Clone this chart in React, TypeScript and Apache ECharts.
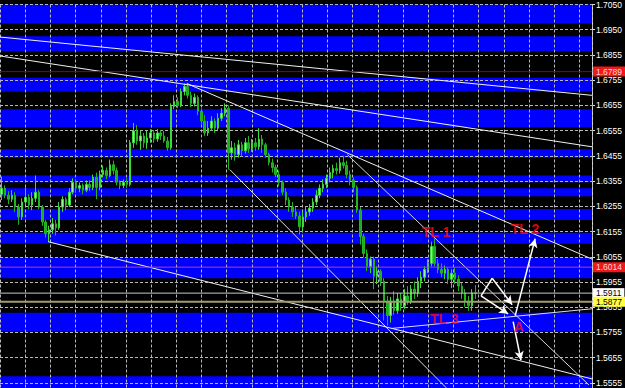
import React, { useEffect, useRef } from 'react';
import * as echarts from 'echarts';

// ---------- DATA ----------
// candles: [open, close, low, high]
const candles: number[][] = [
  [1.6303,1.6327,1.6280,1.6373],[1.6327,1.6299,1.6287,1.6338],[1.6299,1.6283,1.6264,1.6315],[1.6283,1.6299,1.6272,1.6319],
  [1.6299,1.6252,1.6233,1.6311],[1.6252,1.6213,1.6182,1.6264],[1.6213,1.6272,1.6201,1.6287],[1.6272,1.6291,1.6260,1.6330],
  [1.6291,1.6260,1.6244,1.6303],[1.6260,1.6287,1.6240,1.6311],[1.6287,1.6311,1.6272,1.6377],[1.6311,1.6252,1.6244,1.6319],
  [1.6252,1.6193,1.6178,1.6260],[1.6193,1.6146,1.6131,1.6201],[1.6146,1.6162,1.6115,1.6178],[1.6162,1.6186,1.6146,1.6209],
  [1.6186,1.6170,1.6139,1.6201],[1.6170,1.6252,1.6162,1.6272],[1.6252,1.6283,1.6233,1.6295],[1.6283,1.6260,1.6240,1.6291],
  [1.6260,1.6311,1.6252,1.6327],[1.6311,1.6350,1.6303,1.6366],[1.6350,1.6327,1.6311,1.6362],[1.6327,1.6338,1.6311,1.6350],
  [1.6338,1.6319,1.6303,1.6346],[1.6319,1.6342,1.6311,1.6358],[1.6342,1.6330,1.6315,1.6358],[1.6330,1.6370,1.6319,1.6381],
  [1.6370,1.6330,1.6283,1.6389],[1.6330,1.6381,1.6319,1.6397],[1.6381,1.6397,1.6370,1.6417],[1.6397,1.6377,1.6362,1.6409],
  [1.6377,1.6420,1.6370,1.6440],[1.6420,1.6397,1.6381,1.6436],[1.6397,1.6350,1.6338,1.6409],[1.6350,1.6338,1.6323,1.6358],
  [1.6338,1.6350,1.6327,1.6362],[1.6350,1.6342,1.6330,1.6366],[1.6342,1.6507,1.6334,1.6518],[1.6507,1.6554,1.6487,1.6585],
  [1.6554,1.6514,1.6499,1.6577],[1.6514,1.6534,1.6479,1.6554],[1.6534,1.6507,1.6487,1.6546],[1.6507,1.6526,1.6483,1.6554],
  [1.6526,1.6546,1.6507,1.6561],[1.6546,1.6522,1.6507,1.6557],[1.6522,1.6546,1.6511,1.6561],[1.6546,1.6534,1.6518,1.6557],
  [1.6534,1.6514,1.6507,1.6554],[1.6514,1.6487,1.6475,1.6530],[1.6487,1.6651,1.6479,1.6663],[1.6651,1.6671,1.6640,1.6695],
  [1.6671,1.6655,1.6644,1.6687],[1.6655,1.6710,1.6648,1.6722],[1.6710,1.6730,1.6695,1.6742],[1.6730,1.6695,1.6683,1.6742],
  [1.6695,1.6663,1.6648,1.6710],[1.6663,1.6687,1.6651,1.6702],[1.6687,1.6632,1.6616,1.6695],[1.6632,1.6593,1.6577,1.6644],
  [1.6593,1.6546,1.6534,1.6616],[1.6546,1.6565,1.6534,1.6593],[1.6565,1.6593,1.6554,1.6612],[1.6593,1.6565,1.6546,1.6604],
  [1.6565,1.6604,1.6557,1.6624],[1.6604,1.6624,1.6593,1.6644],[1.6624,1.6644,1.6612,1.6663],[1.6644,1.6467,1.6401,1.6655],
  [1.6467,1.6487,1.6440,1.6514],[1.6487,1.6460,1.6436,1.6507],[1.6460,1.6499,1.6448,1.6518],[1.6499,1.6475,1.6452,1.6511],
  [1.6475,1.6507,1.6464,1.6526],[1.6507,1.6483,1.6467,1.6534],[1.6483,1.6507,1.6471,1.6522],[1.6507,1.6491,1.6475,1.6526],
  [1.6491,1.6522,1.6479,1.6565],[1.6522,1.6499,1.6467,1.6538],[1.6499,1.6460,1.6448,1.6507],[1.6460,1.6428,1.6417,1.6467],
  [1.6428,1.6409,1.6389,1.6444],[1.6409,1.6381,1.6370,1.6420],[1.6381,1.6350,1.6334,1.6397],[1.6350,1.6311,1.6299,1.6358],
  [1.6311,1.6280,1.6260,1.6327],[1.6280,1.6252,1.6233,1.6291],[1.6252,1.6233,1.6213,1.6272],[1.6233,1.6217,1.6205,1.6252],
  [1.6217,1.6174,1.6143,1.6233],[1.6174,1.6213,1.6154,1.6233],[1.6213,1.6233,1.6193,1.6252],[1.6233,1.6248,1.6217,1.6264],
  [1.6248,1.6272,1.6233,1.6287],[1.6272,1.6299,1.6260,1.6319],[1.6299,1.6327,1.6287,1.6342],[1.6327,1.6342,1.6311,1.6362],
  [1.6342,1.6366,1.6327,1.6381],[1.6366,1.6389,1.6350,1.6409],[1.6389,1.6405,1.6366,1.6420],[1.6405,1.6397,1.6381,1.6428],
  [1.6397,1.6428,1.6385,1.6448],[1.6428,1.6417,1.6405,1.6456],[1.6417,1.6381,1.6366,1.6436],[1.6381,1.6358,1.6338,1.6397],
  [1.6358,1.6330,1.6311,1.6370],[1.6330,1.6240,1.6229,1.6338],[1.6240,1.6135,1.6103,1.6252],[1.6135,1.6068,1.6052,1.6146],
  [1.6068,1.6017,1.5998,1.6084],[1.6017,1.6045,1.5990,1.6056],[1.6045,1.5978,1.5927,1.6056],[1.5978,1.5998,1.5947,1.6017],
  [1.5998,1.5958,1.5939,1.6005],[1.5958,1.5880,1.5802,1.5970],[1.5880,1.5822,1.5782,1.5900],[1.5822,1.5880,1.5794,1.5896],
  [1.5880,1.5841,1.5825,1.5919],[1.5841,1.5888,1.5829,1.5912],[1.5888,1.5861,1.5841,1.5912],[1.5861,1.5900,1.5849,1.5927],
  [1.5900,1.5880,1.5865,1.5939],[1.5880,1.5927,1.5868,1.5943],[1.5927,1.5912,1.5888,1.5958],[1.5912,1.5958,1.5896,1.5974],
  [1.5958,1.5974,1.5931,1.5998],[1.5974,1.6005,1.5958,1.6017],[1.6005,1.6029,1.5990,1.6045],[1.6029,1.6096,1.6017,1.6115],
  [1.6096,1.6029,1.6017,1.6127],[1.6029,1.6005,1.5990,1.6045],[1.6005,1.5990,1.5974,1.6029],[1.5990,1.6005,1.5966,1.6021],
  [1.6005,1.5966,1.5947,1.6013],[1.5966,1.5990,1.5931,1.6005],[1.5990,1.5966,1.5947,1.6013],[1.5966,1.5939,1.5919,1.5982],
  [1.5939,1.5912,1.5888,1.5951],[1.5912,1.5880,1.5857,1.5927],[1.5880,1.5861,1.5841,1.5900],[1.5861,1.5912,1.5841,1.5927],
  [1.5912,1.5911,1.5888,1.5943],
];

const slotCount = 175; // bar slots across the chart (incl. empty right shift)
const priceMin = 1.5535;
const priceMax = 1.7055;

// right axis tick labels, top to bottom (steps of 0.01 from priceMax)
const tickLabels = [
  '1.7050', '1.6950', '1.6855', '1.6755', '1.6655', '1.6555', '1.6455', '1.6355',
  '1.6255', '1.6155', '1.6055', '1.5955', '1.5855', '1.5755', '1.5655', '1.5555',
];

// blue support/resistance zones [low, high]
const zones: number[][] = [
  [1.6980, 1.7055], [1.6871, 1.6929], [1.6710, 1.6765], [1.6569, 1.6640],
  [1.6448, 1.6481], [1.6350, 1.6377], [1.6295, 1.6327], [1.6201, 1.6244],
  [1.6107, 1.6150], [1.5970, 1.6052], [1.5759, 1.5833], [1.5535, 1.5582],
];

// horizontal price levels
const priceLevels = [1.6789, 1.6014, 1.5911, 1.5877];

// trend lines: [[barIndex, price], [barIndex, price]]
const trendLines: number[][][] = [
  [[-0.5, 1.6926], [174.5, 1.6695]],
  [[-0.5, 1.6851], [174.5, 1.6491]],
  [[54.7, 1.6742], [174.5, 1.6046]],
  [[102.2, 1.6460], [173.6, 1.5547]],
  [[67.4, 1.6401], [131.4, 1.5536]],
  [[13.7, 1.6115], [174.5, 1.5571]],
  [[115.2, 1.5771], [174.5, 1.5849]],
];

// hand-drawn arrows (polylines, head at the last point)
const arrowPaths: number[][][] = [
  [[141.7, 1.5900], [145.0, 1.5970], [150.9, 1.5865]],
  [[141.7, 1.5900], [149.7, 1.5829]],
  [[151.8, 1.5822], [157.7, 1.6127]],
  [[151.2, 1.5798], [153.5, 1.5645]],
];

// annotation texts
const noteNames = ['TL 1', 'TL 2', 'TL 3', 'A'];
const noteCoords: number[][] = [
  [128.4, 1.6154], [154.7, 1.6166], [130.8, 1.5810], [152.9, 1.5778],
];

// ---------- STYLE ----------
const FONT = 'Liberation Sans';
const gridLineStyle = { color: '#B8B8B8', width: 1, type: [3, 2] as number[] };
const levelStyles = [
  { line: '#7A0E0E', bg: '#F01818', fg: '#FFD8D8', w: 1 },
  { line: '#B040B0', bg: '#F01818', fg: '#FFD8D8', w: 1 },
  { line: '#C8C8C8', bg: '#FFFFFF', fg: '#000000', w: 1 },
  { line: '#A09C70', bg: '#FFFF40', fg: '#000000', w: 2 },
];
const trendColors = ['#F0F0F0', '#F0F0F0', '#F0F0F0', '#D8D8D8', '#E0E0E0', '#F0F0F0', '#D8D8FF'];

function buildOption(): any {
  const slots = Array.from({ length: slotCount }, (_, i) => String(i));

  const arrowSegs: any[] = [];
  arrowPaths.forEach((path) => {
    for (let s = 0; s < path.length - 1; s++) {
      const last = s === path.length - 2;
      arrowSegs.push([
        { coord: path[s], symbol: 'none' },
        { coord: path[s + 1], symbol: last ? 'arrow' : 'none' },
      ]);
    }
  });

  const trendSeries = trendLines.map((ln, idx) => ({
    type: 'line',
    xAxisIndex: 1,
    yAxisIndex: 0,
    data: ln,
    symbol: 'none',
    silent: true,
    z: 4,
    lineStyle: { color: trendColors[idx], width: 1 },
    ...(idx === 0
      ? {
          markLine: {
            z: 6,
            silent: true,
            symbol: ['none', 'arrow'],
            symbolSize: [7, 9],
            label: { show: false },
            lineStyle: { color: '#FFFFFF', width: 1.5, type: 'solid' },
            data: arrowSegs,
          },
        }
      : {}),
  }));

  // one carrier series per price level so every level keeps its own line and label
  const levelSeries = priceLevels.map((p, i) => ({
    type: 'line',
    xAxisIndex: 1,
    yAxisIndex: 0,
    data: [[-0.5, p], [slotCount - 0.5, p]],
    symbol: 'none',
    silent: true,
    z: 5,
    lineStyle: { color: levelStyles[i].line, width: levelStyles[i].w },
    endLabel: {
      show: true,
      formatter: p.toFixed(4),
      distance: 1,
      backgroundColor: levelStyles[i].bg,
      color: levelStyles[i].fg,
      fontSize: 8.5,
      fontFamily: FONT,
      lineHeight: 9,
      padding: [1, 3, 0, 3],
    },
  }));

  return {
    animation: false,
    backgroundColor: '#000000',
    grid: { left: 0, top: 0, right: 32, bottom: 0, containLabel: false },
    xAxis: [
      { type: 'category', data: slots, show: false, boundaryGap: true },
      { type: 'value', min: -0.5, max: slotCount - 0.5, show: false },
      {
        type: 'value', min: 0, max: 23.5, interval: 1, z: 2,
        axisLine: { show: false }, axisTick: { show: false }, axisLabel: { show: false },
        splitLine: { show: true, lineStyle: gridLineStyle },
      },
    ],
    yAxis: [
      { type: 'value', min: priceMin, max: priceMax, show: false },
      {
        type: 'value', inverse: true, min: 0, max: (priceMax - priceMin) / 0.01, interval: 1,
        position: 'right', z: 2,
        axisLine: { show: false }, axisTick: { show: false }, axisLabel: { show: false },
        splitLine: { show: true, lineStyle: gridLineStyle },
      },
      {
        type: 'value', inverse: true, min: 0, max: (priceMax - priceMin) / 0.01, interval: 1,
        position: 'right', z: 0,
        axisLine: { show: true, lineStyle: { color: '#E0E0E0', width: 1 } },
        axisTick: { show: true, length: 3, lineStyle: { color: '#E0E0E0' } },
        splitLine: { show: false },
        axisLabel: {
          show: true, margin: 4, color: '#FFFFFF', fontSize: 8.5, fontFamily: FONT,
          verticalAlignMinLabel: 'middle',
          formatter: (v: number) => {
            const k = Math.round(v);
            return Math.abs(v - k) < 1e-6 && tickLabels[k] ? tickLabels[k] : '';
          },
        },
      },
    ],
    series: [
      {
        type: 'candlestick',
        xAxisIndex: 0,
        yAxisIndex: 0,
        data: candles,
        barWidth: 2,
        z: 3,
        silent: true,
        itemStyle: {
          color: '#9CF59C', color0: '#1EAA1E',
          borderColor: '#3CD83C', borderColor0: '#22B422', borderWidth: 1,
        },
        markArea: {
          z: 1,
          silent: true,
          itemStyle: { color: '#0000FF', opacity: 1 },
          data: zones.map((zn) => [{ yAxis: zn[0] }, { yAxis: zn[1] }]),
        },
      },
      ...trendSeries,
      ...levelSeries,
      {
        type: 'scatter',
        xAxisIndex: 1,
        yAxisIndex: 0,
        z: 7,
        silent: true,
        symbolSize: 1,
        itemStyle: { color: 'rgba(0,0,0,0)' },
        data: noteNames.map((n, i) => ({ name: n, value: noteCoords[i] })),
        label: {
          show: true, position: 'inside', formatter: '{b}',
          color: '#FF1010', fontWeight: 'bold', fontSize: 14, fontFamily: FONT,
        },
      },
    ],
  };
}

export default function App() {
  const ref = useRef<HTMLDivElement>(null);
  useEffect(() => {
    if (!ref.current) return;
    const chart = echarts.init(ref.current, undefined, { renderer: 'svg' });
    chart.setOption(buildOption());
    return () => chart.dispose();
  }, []);
  return (
    <div
      ref={ref}
      style={{ position: 'fixed', left: 0, top: 0, width: '625px', height: '388px', background: '#000' }}
    />
  );
}
